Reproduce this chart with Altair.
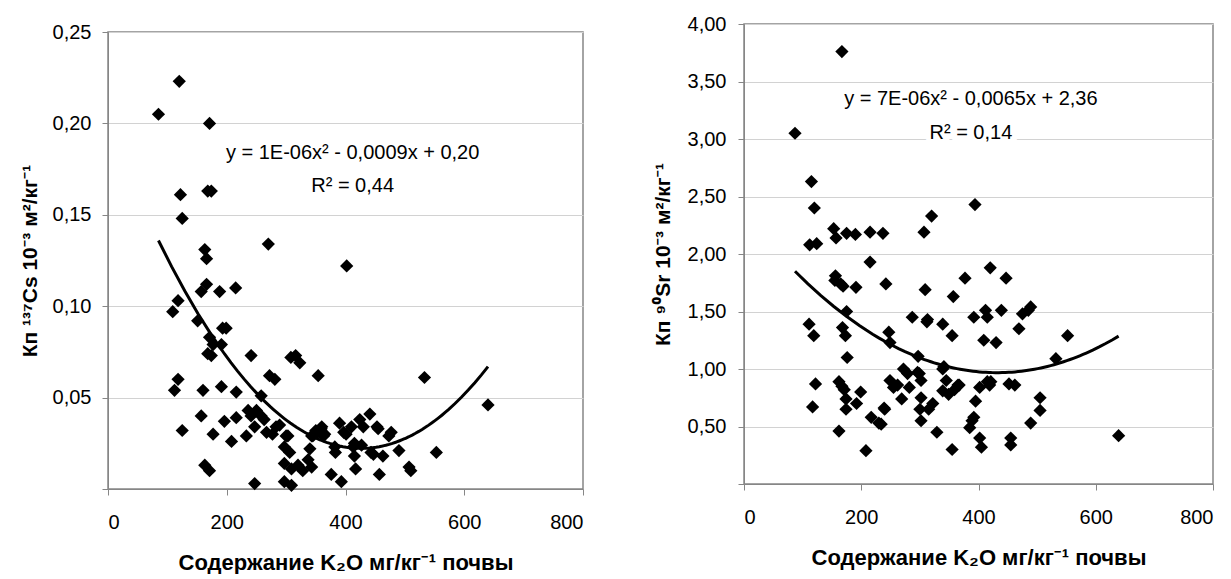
import altair as alt
import pandas as pd

# ---- Left panel: Cs-137 ----
cs_x = [85, 120, 171, 122, 125, 168, 174, 270, 402,
        163, 166, 166, 157, 188, 215, 118, 109, 151, 193, 199, 171, 177, 191, 168, 174, 241,
        118, 112, 160, 191, 216, 236, 241, 157, 196, 216, 125, 177, 208, 233, 163, 171, 247,
        308, 316, 323, 272, 281, 354, 258, 250, 258, 247, 267, 289, 300, 297, 306, 297, 309,
        320, 328, 337, 340, 345, 359, 353, 365, 382, 390, 401, 410, 424, 441, 415, 427, 415,
        455, 443, 457, 376, 393, 297, 309,
        477, 473, 490, 507, 510, 553, 533, 640, 463, 453, 447, 263, 277, 283, 303, 343, 363,
        343, 397, 383, 413, 430, 417, 350, 360]
cs_y = [0.205, 0.223, 0.200, 0.161, 0.148, 0.163, 0.163, 0.134, 0.122,
        0.131, 0.126, 0.112, 0.108, 0.108, 0.110, 0.103, 0.097, 0.092, 0.088, 0.088, 0.083, 0.079, 0.079, 0.074, 0.073, 0.073,
        0.060, 0.054, 0.054, 0.056, 0.053, 0.043, 0.040, 0.040, 0.037, 0.039, 0.032, 0.030, 0.026, 0.029, 0.013, 0.010, 0.003,
        0.072, 0.073, 0.069, 0.062, 0.060, 0.062, 0.051, 0.043, 0.040, 0.034, 0.031, 0.035, 0.029, 0.023, 0.020, 0.014, 0.011,
        0.013, 0.010, 0.016, 0.022, 0.029, 0.033, 0.031, 0.030, 0.023, 0.036, 0.030, 0.034, 0.038, 0.041, 0.025, 0.024, 0.018,
        0.033, 0.020, 0.008, 0.008, 0.004, 0.004, 0.002,
        0.031, 0.029, 0.021, 0.012, 0.010, 0.020, 0.061, 0.046, 0.018, 0.034, 0.019, 0.038, 0.030, 0.034, 0.029, 0.012, 0.029,
        0.029, 0.031, 0.020, 0.023, 0.034, 0.011, 0.032, 0.034]

# ---- Right panel: Sr-90 ----
sr_x = [87, 167, 115, 120, 112, 124, 153, 157, 175, 190, 215, 237, 215, 242, 307, 320, 394, 309, 357, 377,
        420, 447, 156, 155, 165, 169, 191,
        175, 111, 119, 168, 173, 176, 122, 117, 162, 167, 171, 174, 174, 199, 192, 162, 208, 217, 234,
        240, 247, 249, 249, 255, 269, 272, 279, 262, 282, 287, 297, 299, 302, 302, 300, 302, 312, 322,
        315, 329, 339, 355, 339, 345, 339, 349, 359, 365, 355, 385, 389, 392, 395, 392, 412, 415, 409,
        430, 439, 402, 415, 419, 402, 405, 452, 462, 455, 455, 469, 475, 489, 485, 505, 505, 489, 532,
        552, 639, 313, 341, 296, 239, 230, 367, 421]
sr_y = [3.05, 3.76, 2.63, 2.40, 2.08, 2.09, 2.22, 2.14, 2.18, 2.17, 2.19, 2.18, 1.93, 1.74, 2.19, 2.33, 2.43, 1.69, 1.63, 1.79,
        1.88, 1.79, 1.81, 1.77, 1.74, 1.72, 1.71,
        1.50, 1.39, 1.29, 1.36, 1.29, 1.10, 0.87, 0.67, 0.89, 0.85, 0.82, 0.74, 0.65, 0.80, 0.70, 0.46, 0.29, 0.58, 0.52,
        0.65, 1.32, 1.23, 0.90, 0.84, 0.74, 1.00, 0.96, 0.86, 0.84, 1.45, 1.11, 0.96, 0.90, 0.75, 0.65, 0.55, 1.41, 0.70,
        0.65, 0.45, 1.39, 1.29, 1.00, 0.90, 0.81, 0.78, 0.82, 0.86, 0.30, 0.49, 0.55, 0.58, 0.72, 1.45, 1.51, 1.45, 1.25,
        1.23, 1.51, 0.84, 0.89, 0.86, 0.40, 0.32, 0.87, 0.86, 0.40, 0.34, 1.35, 1.48, 1.54, 1.51, 0.75, 0.64, 0.53, 1.09,
        1.29, 0.42, 1.43, 1.02, 0.97, 0.66, 0.53, 0.86, 0.89]

x_ticks = [0, 200, 400, 600, 800]
cs_ticks = [0, 0.05, 0.10, 0.15, 0.20, 0.25]
sr_ticks = [0, 0.5, 1.0, 1.5, 2.0, 2.5, 3.0, 3.5, 4.0]

x_title = "Содержание K₂O мг/кг⁻¹ почвы"
cs_title = "Кп ¹³⁷Cs 10⁻³ м²/кг⁻¹"
sr_title = "Кп ⁹⁰Sr 10⁻³ м²/кг⁻¹"

cs_eq = ["y = 1E-06x² - 0,0009x + 0,20", "R² = 0,44"]
cs_eq_x = [412, 412]
cs_eq_y = [0.184, 0.166]
sr_eq = ["y = 7E-06x² - 0,0065x + 2,36", "R² = 0,14"]
sr_eq_x = [387, 387]
sr_eq_y = [3.345, 3.05]

FONT = "Liberation Sans"
TFONT = "Liberation Sans, Noto Sans, DejaVu Sans"
GREY = "#868686"


def panel(xs, ys, ydom, yticks, ytitle, eqs, eqx, eqy, w, h, lab_pad, ttl_pad):
    df = pd.DataFrame({"x": xs, "y": ys})
    xaxis = alt.Axis(values=x_ticks, format="d", grid=False, domainColor=GREY, tickColor=GREY,
                     tickSize=6, labelFont=FONT, labelFontSize=20, labelPadding=17,
                     labelColor="black", title=x_title, titleFont=TFONT, titleFontSize=22,
                     titleFontWeight="bold", titlePadding=20, titleColor="black")
    yaxis = alt.Axis(values=yticks,
                     labelExpr="datum.value == 0 ? '' : replace(format(datum.value, '.2f'), '.', ',')",
                     grid=True, gridColor="#d2d2d2", domainColor=GREY, tickColor=GREY, tickSize=6,
                     labelFont=FONT, labelFontSize=20, labelPadding=lab_pad, labelColor="black",
                     title=ytitle, titleFont=TFONT, titleFontSize=21, titleFontWeight="bold",
                     titlePadding=ttl_pad, titleColor="black")
    xs_ = alt.X("x:Q", scale=alt.Scale(domain=[0, 800], nice=False, zero=False), axis=xaxis)
    ys_ = alt.Y("y:Q", scale=alt.Scale(domain=ydom, nice=False), axis=yaxis)
    base = alt.Chart(df)
    pts = base.mark_point(shape="diamond", filled=True, color="black", size=175, opacity=1).encode(x=xs_, y=ys_)
    trend = base.transform_regression("x", "y", method="poly", order=2).mark_line(
        color="black", strokeWidth=3).encode(x="x:Q", y="y:Q")
    eqdf = pd.DataFrame({"x": eqx, "y": eqy, "t": eqs})
    halo = alt.Chart(eqdf).mark_text(font=FONT, fontSize=20, color="white", stroke="white",
                                     strokeWidth=10, align="center", baseline="middle").encode(
        x="x:Q", y="y:Q", text="t:N")
    txt = alt.Chart(eqdf).mark_text(font=FONT, fontSize=20, color="black", align="center",
                                    baseline="middle").encode(x="x:Q", y="y:Q", text="t:N")
    return alt.layer(pts, trend, halo, txt).properties(
        width=w, height=h, view=alt.ViewBackground(stroke=GREY, strokeWidth=1.5))


left_panel = panel(cs_x, cs_y, [0, 0.25], cs_ticks, cs_title, cs_eq, cs_eq_x, cs_eq_y, 475, 457, 11, 12)
right = panel(sr_x, sr_y, [0, 4.0], sr_ticks, sr_title, sr_eq, sr_eq_x, sr_eq_y, 469, 460, 12, 14)

# empty spacer that lowers the left panel by 8 px relative to the right one
spacer = alt.Chart(pd.DataFrame({"a": [0]})).mark_point(opacity=0).encode(
    x=alt.value(0), y=alt.value(0)
).properties(width=475, height=8, view=alt.ViewBackground(stroke=None))

left = alt.vconcat(spacer, left_panel, spacing=0, bounds="flush")

chart = alt.concat(left, right, columns=2, spacing=66).properties(align="none").properties(
    padding={"left": 10, "top": 5, "right": 0, "bottom": 0})

chart.save("out.html", embed_options={"renderer": "svg", "actions": False})
